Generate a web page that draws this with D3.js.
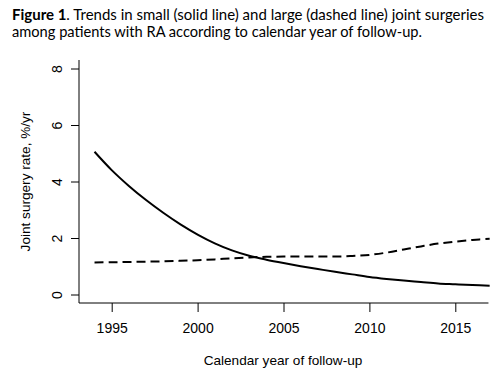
<!DOCTYPE html>
<html><head><meta charset="utf-8">
<script src="https://cdn.jsdelivr.net/npm/d3@7"></script>
<style>body{margin:0;background:#fff}svg{display:block}</style>
</head><body>
<svg id="c" width="503" height="377"></svg>
<script>
const years = [1994,1995,1996,1997,1998,1999,2000,2001,2002,2003,2004,2005,2006,2007,2008,2009,2010,2011,2012,2013,2014,2015,2016,2017];
const smallJoint = [5.07,4.42,3.86,3.36,2.91,2.50,2.14,1.83,1.58,1.39,1.25,1.13,1.02,0.92,0.82,0.73,0.64,0.57,0.51,0.46,0.41,0.38,0.35,0.33];
const largeJoint = [1.15,1.16,1.17,1.18,1.19,1.21,1.23,1.26,1.30,1.33,1.35,1.36,1.36,1.36,1.36,1.38,1.42,1.50,1.61,1.72,1.82,1.89,1.95,1.99];
const xTicks = [1995,2000,2005,2010,2015];
const yTicks = [0,2,4,6,8];

(function(){
const svg = d3.select("#c");
const x = d3.scaleLinear().domain([1995,2015]).range([111.7,455.3]);
const y = d3.scaleLinear().domain([0,8]).range([295,69]);
const pLeft = 79, pBottom = 303, pTop = 60, pRight = x(2016.93);
const axisFont = "'Liberation Sans', Arial, sans-serif";

// title
const t = svg.append("text").attr("font-family","Lato, 'Open Sans', sans-serif").attr("font-size",15).attr("fill","#000");
const l1 = t.append("tspan").attr("x",12).attr("y",20).attr("textLength",472).attr("lengthAdjust","spacingAndGlyphs");
l1.append("tspan").attr("font-weight","bold").text("Figure 1");
l1.append("tspan").text(". Trends in small (solid line) and large (dashed line) joint surgeries");
t.append("tspan").attr("x",12).attr("y",37).attr("textLength",410).attr("lengthAdjust","spacingAndGlyphs")
  .text("among patients with RA according to calendar year of follow-up.");

const g = svg.append("g");
// L-box
g.append("path").attr("d",`M${pLeft},${pTop}V${pBottom}H${pRight}`).attr("fill","none").attr("stroke","#000").attr("stroke-width",1);

// x axis ticks
const xa = d3.axisBottom(x).tickValues(xTicks).tickSize(9).tickFormat(d3.format("d"));
const gx = g.append("g").attr("transform",`translate(0,${pBottom})`).call(xa);
gx.select(".domain").remove();
gx.selectAll("text").attr("font-family",axisFont).attr("font-size",14).attr("fill","#000").attr("dy",null).attr("y",30);
gx.selectAll("line").attr("stroke","#000");

// y axis ticks
const ya = d3.axisLeft(y).tickValues(yTicks).tickSize(8).tickFormat(d3.format("d"));
const gy = g.append("g").attr("transform",`translate(${pLeft},0)`).call(ya);
gy.select(".domain").remove();
gy.selectAll(".tick").attr("transform",null);
gy.selectAll(".tick line").attr("stroke","#000").attr("y1",d=>y(d)).attr("y2",d=>y(d));
gy.selectAll(".tick text").attr("font-family",axisFont).attr("font-size",14).attr("fill","#000")
  .attr("x",0).attr("y",0).attr("dy",null).attr("text-anchor","middle")
  .attr("transform",d=>`translate(-17,${y(d)}) rotate(-90)`);

// axis titles
svg.append("text").attr("x",283).attr("y",365).attr("text-anchor","middle")
  .attr("font-family",axisFont).attr("font-size",13.6).text("Calendar year of follow-up");
svg.append("text").attr("transform",`translate(30,${(pTop+pBottom)/2}) rotate(-90)`).attr("text-anchor","middle")
  .attr("font-family",axisFont).attr("font-size",13.6).text("Joint surgery rate, %/yr");

const line = d3.line().x((d,i)=>x(years[i])).y(d=>y(d)).curve(d3.curveCatmullRom.alpha(0.5));
g.append("path").attr("d",line(smallJoint)).attr("fill","none").attr("stroke","#000").attr("stroke-width",2);
g.append("path").attr("d",line(largeJoint)).attr("fill","none").attr("stroke","#000").attr("stroke-width",2).attr("stroke-dasharray","9,5");
})();
</script>
</body></html>
